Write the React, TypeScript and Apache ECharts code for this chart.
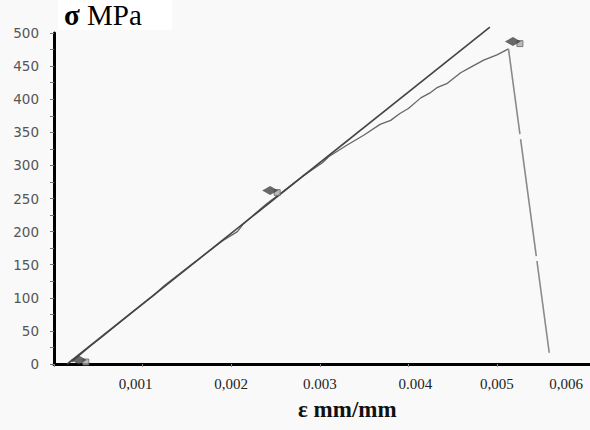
import React, { useEffect, useRef } from "react";
import * as echarts from "echarts";

// Strain (mm/mm) tick labels as printed on the reference
const xTickValues = [0.001, 0.002, 0.003, 0.004, 0.005, 0.006];
const xTickLabels = ["0,001", "0,002", "0.003", "0.004", "0,005", "0,006"];

// Linear-elastic reference line [strain, stress MPa]
const elasticLine: [number, number][] = [
  [0.00015, 0],
  [0.00492, 509],
];

// Measured stress-strain curve [strain, stress MPa]
const measuredCurve: [number, number][] = [
  [0.0002, 3],
  [0.0004, 26],
  [0.00055, 42],
  [0.00065, 53],
  [0.0009, 80],
  [0.00112, 103],
  [0.00125, 119],
  [0.0016, 155],
  [0.0019, 186],
  [0.00207, 200],
  [0.00214, 212],
  [0.0024, 242],
  [0.0026, 262],
  [0.0028, 283],
  [0.00303, 304],
  [0.0031, 313],
  [0.0033, 330],
  [0.0035, 346],
  [0.00368, 362],
  [0.0038, 368],
  [0.0039, 378],
  [0.004, 386],
  [0.00414, 402],
  [0.00425, 410],
  [0.00433, 418],
  [0.00444, 424],
  [0.00459, 440],
  [0.0047, 448],
  [0.00485, 459],
  [0.005, 467],
  [0.00513, 476],
];

// Fracture drop [strain, stress MPa]
const fractureDrop: [number, number][] = [
  [0.00513, 476],
  [0.00559, 17],
];

// Marker points [strain, stress MPa]
const markers: [number, number][] = [
  [0.00028, 6],
  [0.00244, 262],
  [0.00518, 487],
];

export default function App() {
  const ref = useRef<HTMLDivElement>(null);

  useEffect(() => {
    if (!ref.current) return;
    const chart = echarts.init(ref.current, undefined, { renderer: "svg" });
    const labelMap: Record<string, string> = {};
    xTickValues.forEach((v, i) => {
      labelMap[v.toFixed(3)] = xTickLabels[i];
    });
    const serif = "'Liberation Serif', serif";
    chart.setOption({
      animation: false,
      backgroundColor: "#f9f9f9",
      graphic: [
        {
          type: "rect",
          left: 58,
          top: 0,
          shape: { width: 114, height: 30 },
          style: { fill: "#ffffff" },
          silent: true,
        },
        {
          type: "text",
          left: 64,
          top: 0,
          style: {
            text: "{s|σ}{m|\u00a0MPa}",
            rich: {
              s: { fontFamily: serif, fontWeight: "bold", fontSize: 29, fill: "#000", color: "#000" },
              m: { fontFamily: serif, fontWeight: "normal", fontSize: 29, fill: "#000", color: "#000" },
            },
          },
        },
        {
          type: "text",
          left: 298,
          top: 398,
          style: {
            text: "ε mm/mm",
            font: "bold 23px 'Liberation Serif', serif",
            fill: "#111",
          },
        },
      ],
      grid: { left: 54, right: 0, top: 33, bottom: 66 },
      xAxis: {
        type: "value",
        min: 0,
        max: 0.00605,
        interval: 0.001,
        splitLine: { show: false },
        axisLine: { show: true, onZero: false, lineStyle: { color: "#000", width: 3 } },
        axisTick: { show: true, length: 3, lineStyle: { color: "#888" } },
        axisLabel: {
          color: "#222",
          fontFamily: serif,
          fontSize: 15,
          margin: 12,
          showMaxLabel: true,
          formatter: (v: number) => {
            const key = v.toFixed(3);
            const t = labelMap[key];
            if (!t || v === 0) return "";
            if (key === "0.006") return "{last|" + t + "}";
            if (key === "0.001") return "{l|" + t + "}";
            if (key === "0.004") return "{r|" + t + "}";
            return t;
          },
          rich: {
            last: { padding: [0, 48, 0, 0], fontFamily: serif, fontSize: 15, color: "#222" },
            l: { padding: [0, 14, 0, 0], fontFamily: serif, fontSize: 15, color: "#222" },
            r: { padding: [0, 0, 0, 14], fontFamily: serif, fontSize: 15, color: "#222" },
          },
        },
      },
      yAxis: {
        type: "value",
        min: 0,
        max: 500,
        interval: 50,
        splitLine: { show: false },
        axisLine: { show: true, lineStyle: { color: "#000", width: 3 } },
        axisTick: { show: true, length: 4, lineStyle: { color: "#777" } },
        minorTick: { show: true, splitNumber: 2, length: 4, lineStyle: { color: "#777" } },
        axisLabel: {
          color: "#555",
          fontFamily: "'DejaVu Sans', sans-serif",
          fontSize: 13.5,
          margin: 15,
        },
      },
      series: [
        {
          type: "line",
          data: elasticLine,
          showSymbol: false,
          clip: false,
          lineStyle: { color: "#444", width: 1.6 },
          z: 3,
        },
        {
          type: "line",
          data: measuredCurve,
          showSymbol: false,
          clip: false,
          lineStyle: { color: "#666", width: 1.3 },
          z: 2,
        },
        {
          type: "line",
          data: fractureDrop,
          showSymbol: false,
          clip: false,
          lineStyle: { color: "#8a8a8a", width: 1.6, type: [86, 5, 118, 5, 300] },
          z: 2,
        },
        {
          type: "scatter",
          data: markers,
          symbol: "rect",
          symbolSize: 6,
          symbolOffset: [7, 2],
          itemStyle: { color: "#aaa", borderColor: "#666", borderWidth: 1 },
          clip: false,
          z: 4,
        },
        {
          type: "scatter",
          data: markers,
          symbol: "diamond",
          symbolSize: [16, 9],
          itemStyle: { color: "#444" },
          clip: false,
          z: 5,
        },
      ],
    });
    return () => chart.dispose();
  }, []);

  return (
    <div
      ref={ref}
      style={{ position: "fixed", left: 0, top: 0, width: 590, height: 430 }}
    />
  );
}
